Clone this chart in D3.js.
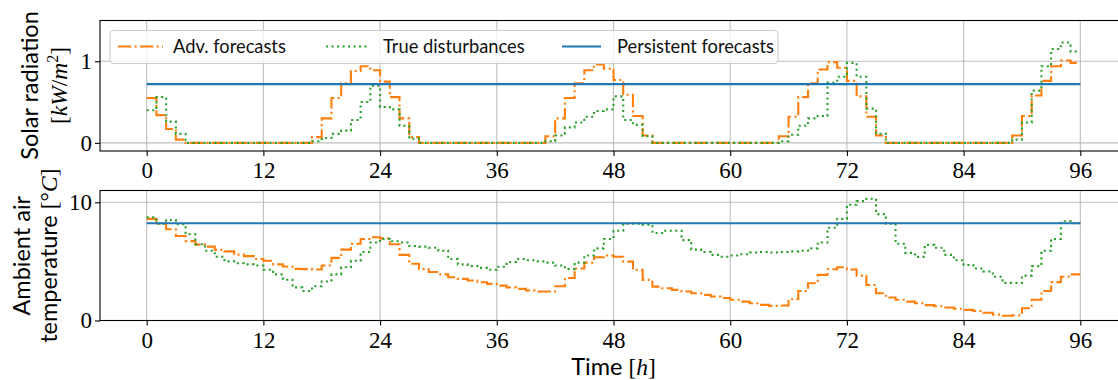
<!DOCTYPE html>
<html><head><meta charset="utf-8">
<script src="https://cdn.jsdelivr.net/npm/d3@7"></script>
<style>body{margin:0;background:#fff}svg{display:block}</style>
</head><body>
<script>
// ---- data (hourly, t = 0..96) ----
const hours = d3.range(0, 97);
const xTicks = [0, 12, 24, 36, 48, 60, 72, 84, 96];
const solarTicks = [0, 1];
const tempTicks = [0, 10];
const seriesNames = ["Adv. forecasts", "True disturbances", "Persistent forecasts"];

const solarAdv = [0.55,0.34,0.17,0.04,0,0,0,0,0,0,0,0,0,0,0,0,0,
  0.07,0.30,0.55,0.73,0.88,0.94,0.89,0.75,0.56,0.30,0.07,
  0,0,0,0,0,0,0,0,0,0,0,0,0,
  0.08,0.30,0.55,0.73,0.89,0.96,0.91,0.77,0.59,0.33,0.09,
  0,0,0,0,0,0,0,0,0,0,0,0,0,
  0.08,0.32,0.56,0.73,0.90,0.99,0.92,0.76,0.57,0.32,0.09,
  0,0,0,0,0,0,0,0,0,0,0,0,0,
  0.09,0.33,0.58,0.76,0.94,1.01,0.98,0.98];
const solarTrue = [0.40,0.56,0.26,0.11,0,0,0,0,0,0,0,0,0,0,0,0,0,
  0.02,0.06,0.11,0.15,0.28,0.50,0.70,0.44,0.41,0.21,0.05,
  0,0,0,0,0,0,0,0,0,0,0,0,0,
  0.02,0.09,0.19,0.25,0.32,0.39,0.41,0.57,0.28,0.22,0.08,
  0,0,0,0,0,0,0,0,0,0,0,0,0,
  0.02,0.10,0.21,0.30,0.33,0.74,0.81,0.98,0.81,0.42,0.11,
  0,0,0,0,0,0,0,0,0,0,0,0,0,
  0.04,0.25,0.64,0.94,1.15,1.23,1.12,1.12];
const solarPersistent = 0.72;

const tempAdv = [8.6,8.2,7.72,7.15,6.72,6.42,6.25,5.98,5.85,5.57,5.45,5.2,5.05,4.75,4.57,4.37,4.35,
  4.32,4.65,5.3,6.0,6.5,6.9,7.05,6.95,6.45,5.55,4.8,4.35,4.1,3.9,3.66,3.52,3.38,3.24,3.1,
  2.95,2.8,2.68,2.55,2.45,2.45,2.9,3.6,4.4,4.9,5.35,5.5,5.4,4.98,4.28,3.44,2.87,2.73,2.59,
  2.45,2.3,2.17,2.03,1.9,1.75,1.6,1.46,1.32,1.24,1.27,1.8,2.5,3.15,3.86,4.34,4.5,4.32,3.8,
  3.0,2.3,1.95,1.75,1.6,1.46,1.3,1.2,1.1,1.0,0.9,0.8,0.65,0.5,0.4,0.45,1.04,1.75,2.5,3.25,
  3.7,3.9,3.9];
const tempTrue = [8.73,8.2,8.5,8.15,7.3,6.45,5.9,5.4,5.0,4.85,4.75,4.65,4.3,3.9,3.45,2.8,2.5,
  2.9,3.3,3.9,4.5,5.05,5.8,6.6,6.9,6.7,6.6,6.3,6.25,6.15,5.9,5.2,4.75,4.6,4.45,4.3,
  4.55,4.95,5.2,5.1,5.0,4.9,4.65,4.35,4.9,5.5,6.1,6.9,7.6,8.2,8.2,8.1,7.4,7.6,7.6,
  6.8,6.0,5.8,5.55,5.4,5.5,5.6,5.75,5.8,5.75,5.8,5.85,5.9,6.1,6.6,7.85,8.6,9.8,10.1,
  10.3,9.0,8.2,6.5,5.72,5.38,6.4,6.15,5.55,5.1,4.7,4.4,4.14,3.7,3.18,3.18,3.8,4.6,5.9,6.9,
  8.4,8.23,8.23];
const tempPersistent = 8.23;

// ---- layout ----
const W = 1118, H = 380;
const C = {adv: "#ff7f0e", tru: "#2ca02c", per: "#1f77b4"};
const LW = 2.1;
const DASH_ADV = "13.3,3.3,2.1,3.3";
const DASH_TRU = "2.1,3.4";
const SANS = "Lato, 'Open Sans', sans-serif";
const SERIF = "'Liberation Serif', 'DejaVu Serif', serif";

const svg = d3.select("body").append("svg").attr("width", W).attr("height", H);

const x = d3.scaleLinear().domain([-4.8, 100.8]).range([100, 1127]);

function panel(top, bottom, yDomain, yTicks, adv, tru, persistent, id) {
  const y = d3.scaleLinear().domain(yDomain).range([bottom, top]);
  const g = svg.append("g");
  g.append("clipPath").attr("id", id).append("rect")
    .attr("x", 100).attr("y", top).attr("width", 1027).attr("height", bottom - top);
  // grid
  g.append("g").selectAll("line").data(xTicks).join("line")
    .attr("x1", d => x(d)).attr("x2", d => x(d)).attr("y1", top).attr("y2", bottom)
    .attr("stroke", "#b0b0b0").attr("stroke-width", 1.1).attr("opacity", 0.8);
  g.append("g").selectAll("line").data(yTicks).join("line")
    .attr("x1", 100).attr("x2", 1127).attr("y1", d => y(d)).attr("y2", d => y(d))
    .attr("stroke", "#b0b0b0").attr("stroke-width", 1.1).attr("opacity", 0.8);
  const line = d3.line().x((d, i) => x(hours[i])).y(d => y(d)).curve(d3.curveStepAfter);
  const pl = g.append("g").attr("clip-path", `url(#${id})`);
  pl.append("path").datum(adv).attr("d", line).attr("fill", "none")
    .attr("stroke", C.adv).attr("stroke-width", LW).attr("stroke-dasharray", DASH_ADV);
  pl.append("path").datum(tru).attr("d", line).attr("fill", "none")
    .attr("stroke", C.tru).attr("stroke-width", LW).attr("stroke-dasharray", DASH_TRU);
  pl.append("line").attr("x1", x(hours[0])).attr("x2", x(hours[hours.length - 1]))
    .attr("y1", y(persistent)).attr("y2", y(persistent))
    .attr("stroke", C.per).attr("stroke-width", LW);
  // axes
  const xa = g.append("g").attr("transform", `translate(0,${bottom})`)
    .call(d3.axisBottom(x).tickValues(xTicks).tickSize(5).tickPadding(6).tickFormat(d3.format("d")));
  const ya = g.append("g").attr("transform", "translate(100,0)")
    .call(d3.axisLeft(y).tickValues(yTicks).tickSize(5).tickPadding(3).tickFormat(d3.format("d")));
  [xa, ya].forEach(a => {
    a.select(".domain").remove();
    a.selectAll(".tick line").attr("stroke", "#000").attr("stroke-width", 1.1);
    a.selectAll(".tick text").attr("font-family", SERIF).attr("font-size", 23).attr("fill", "#000");
  });
  // spines
  g.append("rect").attr("x", 100).attr("y", top).attr("width", 1027).attr("height", bottom - top)
    .attr("fill", "none").attr("stroke", "#000").attr("stroke-width", 1.1);
  return y;
}

panel(20.5, 151, [-0.1, 1.5], solarTicks, solarAdv, solarTrue, solarPersistent, "c1");
panel(190.5, 320.5, [0, 11], tempTicks, tempAdv, tempTrue, tempPersistent, "c2");

// ---- y labels ----
function ylab(cy, lines) {
  const g = svg.append("g").attr("transform", `translate(0,${cy}) rotate(-90)`);
  lines.forEach(l => {
    const t = g.append("text").attr("x", 0).attr("y", l.base).attr("text-anchor", "middle")
      .attr("font-size", 23.5).attr("fill", "#000");
    l.parts.forEach(p => {
      const s = t.append("tspan").text(p.t).attr("font-family", p.f || SANS);
      if (p.i) s.attr("font-style", "italic");
      if (p.sup) s.attr("font-size", 16).attr("dy", -9);
      if (p.down) s.attr("dy", 9);
    });
  });
}
ylab(85.5, [
  {base: 38, parts: [{t: "Solar radiation"}]},
  {base: 67, parts: [{t: "[", f: SERIF}, {t: "kW", f: SERIF, i: 1}, {t: "/", f: SERIF},
    {t: "m", f: SERIF, i: 1}, {t: "2", f: SERIF, sup: 1}, {t: "]", f: SERIF, down: 1}]}
]);
ylab(255.7, [
  {base: 30, parts: [{t: "Ambient air"}]},
  {base: 57, parts: [{t: "temperature "}, {t: "[°", f: SERIF}, {t: "C", f: SERIF, i: 1}, {t: "]", f: SERIF}]}
]);

// ---- x label ----
const xl = svg.append("text").attr("x", 613.5).attr("y", 375).attr("text-anchor", "middle")
  .attr("font-size", 23.5).attr("fill", "#000");
xl.append("tspan").text("Time ").attr("font-family", SANS);
xl.append("tspan").text("[").attr("font-family", SERIF);
xl.append("tspan").text("h").attr("font-family", SERIF).attr("font-style", "italic");
xl.append("tspan").text("]").attr("font-family", SERIF);

// ---- legend ----
const lg = svg.append("g");
lg.append("rect").attr("x", 110).attr("y", 30.5).attr("width", 668).attr("height", 33).attr("rx", 4)
  .attr("fill", "#fff").attr("fill-opacity", 0.8).attr("stroke", "#cccccc").attr("stroke-width", 1.1);
const items = [
  {name: seriesNames[0], c: C.adv, dash: DASH_ADV, x1: 118, x2: 163, tx: 173},
  {name: seriesNames[1], c: C.tru, dash: DASH_TRU, x1: 326, x2: 368, tx: 383},
  {name: seriesNames[2], c: C.per, dash: null, x1: 562, x2: 601, tx: 617}
];
items.forEach(it => {
  const l = lg.append("line").attr("x1", it.x1).attr("x2", it.x2).attr("y1", 46.5).attr("y2", 46.5)
    .attr("stroke", it.c).attr("stroke-width", LW);
  if (it.dash) l.attr("stroke-dasharray", it.dash);
  lg.append("text").attr("x", it.tx).attr("y", 53).text(it.name)
    .attr("font-family", SANS).attr("font-size", 18.3).attr("fill", "#111");
});
</script>
</body></html>
